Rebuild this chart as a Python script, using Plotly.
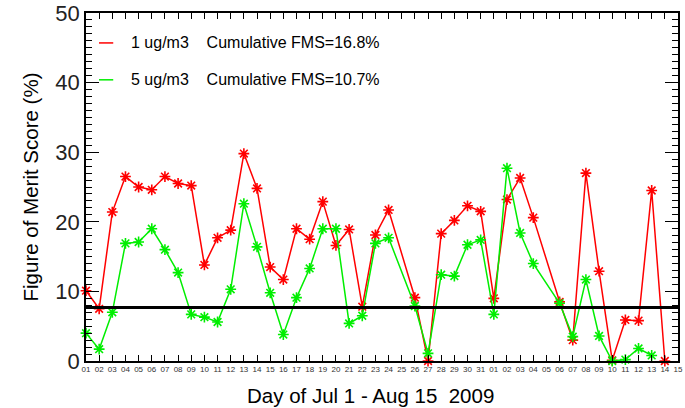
import plotly.graph_objects as go

# Day labels Jul 1 - Aug 15 2009
day_labels = [f"{d:02d}" for d in range(1, 32)] + [f"{d:02d}" for d in range(1, 16)]
days = list(range(1, len(day_labels) + 1))

# Figure of Merit Score (%) per day; None = no data
fms_1ug = [10.1, 7.5, 21.4, 26.5, 25.0, 24.6, 26.5, 25.5, 25.2, 13.8,
           17.7, 18.8, 29.8, 24.8, 13.5, 11.7, 19.0, 17.5, 22.9, 16.6,
           18.9, 7.8, 18.1, 21.7, None, 9.1, 0.0, 18.3, 20.2, 22.3,
           21.5, 9.0, 23.2, 26.3, 20.6, None, 8.5, 3.0, 27.0, 12.9,
           0.1, 5.9, 5.8, 24.5, 0.0, None]
fms_5ug = [4.0, 1.7, 7.0, 16.9, 17.1, 19.0, 16.0, 12.7, 6.7, 6.3,
           5.6, 10.3, 22.6, 16.4, 9.8, 3.8, 9.1, 13.3, 19.0, 19.0,
           5.4, 6.5, 16.9, 17.7, None, 7.9, 1.1, 12.4, 12.2, 16.7,
           17.4, 6.7, 27.7, 18.4, 14.0, None, 8.3, 3.5, 11.7, 3.6,
           0.0, 0.2, 1.8, 0.8, None, None]
threshold = 7.7

series = [
    ("1 ug/m3    Cumulative FMS=16.8%", fms_1ug, "#ff0000"),
    ("5 ug/m3    Cumulative FMS=10.7%", fms_5ug, "#00ee00"),
]

FONT = "Liberation Sans, Arial, Helvetica, sans-serif"

fig = go.Figure()
for name, vals, col in series:
    fig.add_trace(go.Scatter(
        x=days, y=vals, mode="lines+markers", name=name, connectgaps=True,
        line=dict(color=col, width=1.5),
        marker=dict(symbol="asterisk-open", size=9, color=col,
                    line=dict(color=col, width=1.6)),
        cliponaxis=False, showlegend=False,
    ))

fig.add_hline(y=threshold, line=dict(color="black", width=3))

# legend drawn as short lines + text
leg_y = [0.914, 0.808]
for (name, vals, col), yy in zip(series, leg_y):
    fig.add_shape(type="line", xref="paper", yref="paper",
                  x0=0.022, x1=0.046, y0=yy, y1=yy,
                  line=dict(color=col, width=1.5))
    fig.add_annotation(xref="paper", yref="paper", x=0.073, y=yy,
                       text=name, showarrow=False, xanchor="left",
                       yanchor="middle",
                       font=dict(family=FONT, size=16, color="black"))

# x-axis title (slightly left of centre as in the original)
fig.add_annotation(xref="paper", yref="paper", x=0.48, y=-0.098,
                   text="Day of Jul 1 - Aug 15  2009", showarrow=False,
                   xanchor="center", yanchor="middle",
                   font=dict(family=FONT, size=20.5, color="black"))

fig.update_layout(
    width=685, height=408,
    margin=dict(l=86, r=7, t=13, b=47, autoexpand=False),
    paper_bgcolor="white", plot_bgcolor="white",
    font=dict(family=FONT, color="black"),
    showlegend=False,
)
fig.update_xaxes(
    range=[1, len(days)], tickmode="array", tickvals=days, ticktext=day_labels,
    ticks="inside", ticklen=6, tickwidth=1, tickcolor="black",
    showline=True, linecolor="black", linewidth=1.5, mirror="ticks",
    showgrid=False, zeroline=False, automargin=False,
    tickfont=dict(family=FONT, size=8, color="#333333"),
)
fig.update_yaxes(
    range=[0, 50], dtick=10, tick0=0,
    ticks="inside", ticklen=13, tickwidth=1, tickcolor="black",
    minor=dict(dtick=1, ticks="inside", ticklen=6, tickcolor="black", tickwidth=1),
    showline=True, linecolor="black", linewidth=1.5, mirror="ticks",
    showgrid=False, zeroline=False, automargin=False,
    tickfont=dict(family=FONT, size=22, color="#222222"),
    title=dict(text="Figure of Merit Score (%)",
               font=dict(family=FONT, size=20.5), standoff=11),
)

# remove the default page margin so the 685x408 figure fills the window
fig.write_html("out.html",
               config={"displayModeBar": False},
               post_script="document.body.style.margin='0';document.body.style.overflow='hidden';")
